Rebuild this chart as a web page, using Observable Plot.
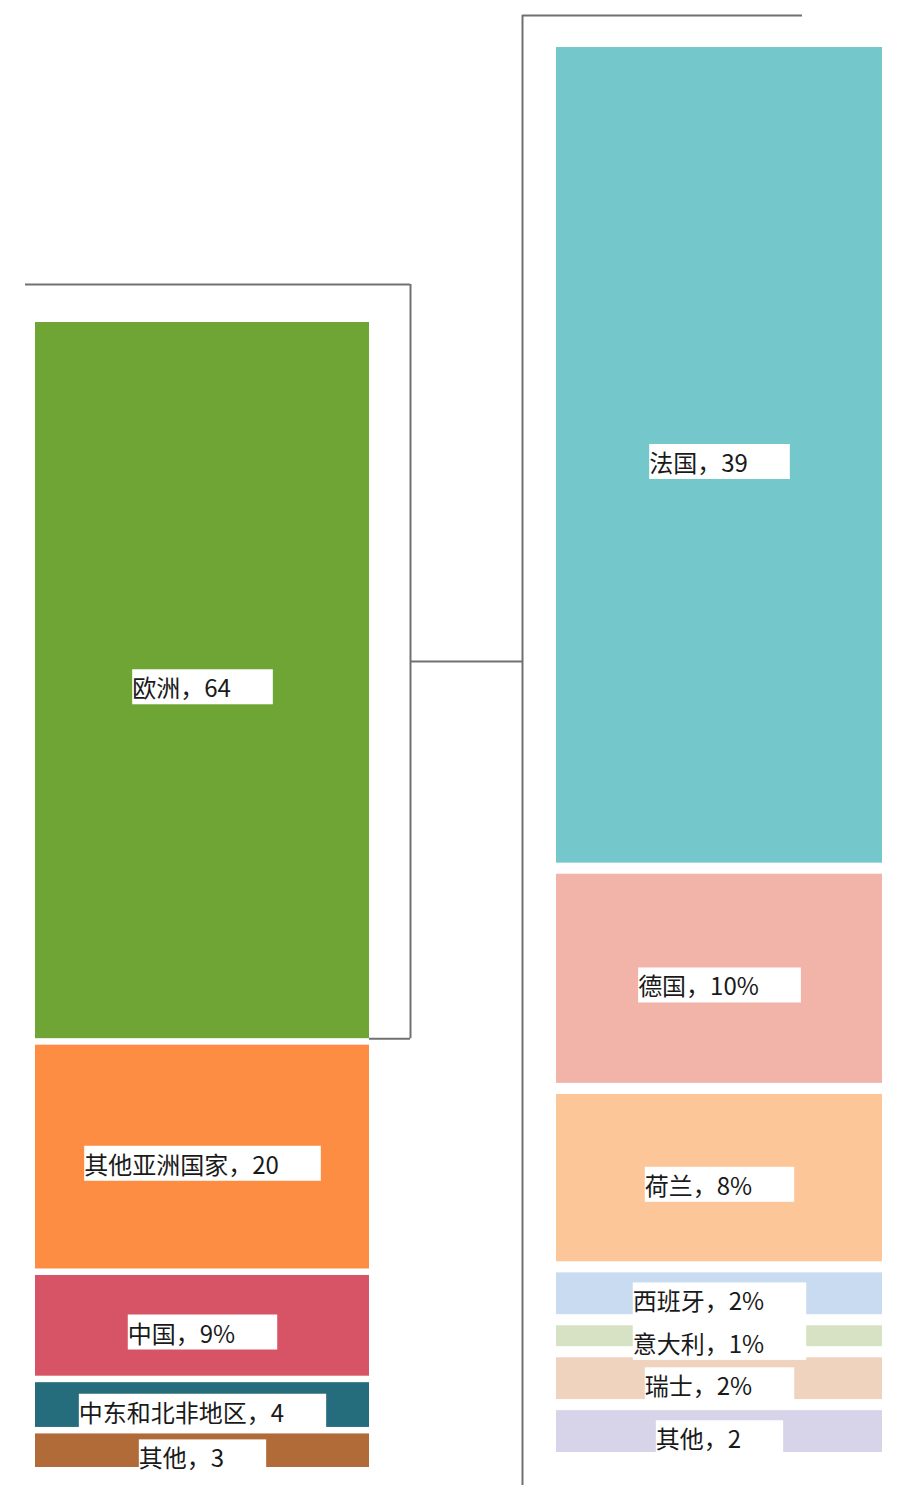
<!DOCTYPE html>
<html>
<head>
<meta charset="utf-8">
<script src="https://cdn.jsdelivr.net/npm/d3@7"></script>
<script src="https://cdn.jsdelivr.net/npm/@observablehq/plot@0.6"></script>
<style>
  html, body { margin: 0; padding: 0; background: #fff; overflow: hidden; }
  #chart { position: relative; width: 907px; height: 1485px; }
  #chart svg { position: absolute; left: 0; top: 0; }
</style>
</head>
<body>
<div id="chart"></div>
<script>
// 主柱：按地区
const regions = ["欧洲", "其他亚洲国家", "中国", "中东和北非地区", "其他"];
const regionValues = [64, 20, 9, 4, 3];
const regionSuffix = ["", "", "%", "", ""];

// 子柱：欧洲按国家拆分
const countries = ["法国", "德国", "荷兰", "西班牙", "意大利", "瑞士", "其他"];
const countryValues = [39, 10, 8, 2, 1, 2, 2];
const countrySuffix = ["", "%", "%", "%", "%", "%", ""];

// 配色
const regionColors = ["#6fa535", "#fd8d43", "#d65465", "#256d7d", "#b06b38"];
const countryColors = ["#74c7ca", "#f2b3a9", "#fdc699", "#c9dbf0", "#d7e2c5", "#f0d3bf", "#d7d3e8"];

const W = 907, H = 1485;
const FONT = "'Noto Sans CJK SC', 'Noto Sans', sans-serif";
const LINE = "#707070";

// Stack the segments top-down, leaving a small gap (in value units) between them.
function stackWithGaps(names, values, suffix, gap) {
  let y = 0;
  return names.map((name, i) => {
    const row = {key: i, name, value: values[i], label: `${name}，${values[i]}${suffix[i]}`, y1: y, y2: y + values[i]};
    y += values[i] + gap;
    return row;
  });
}

const leftGap = 0.58, rightGap = 0.53;
const leftRows = stackWithGaps(regions, regionValues, regionSuffix, leftGap);
const rightRows = stackWithGaps(countries, countryValues, countrySuffix, rightGap);
const leftTotal = leftRows[leftRows.length - 1].y2;
const rightTotal = rightRows[rightRows.length - 1].y2;
const europe = leftRows[0];

const labelStyle = {fontSize: 24, fill: "#1a1a1a", dx: -21, dy: 9};

// 左侧：地区构成，附带指向欧洲拆分的括线
const left = Plot.plot({
  width: W, height: H,
  style: {fontFamily: FONT, background: "transparent"},
  x: {domain: [0, 1], range: [35, 369], axis: null},
  y: {domain: [0, leftTotal], range: [322, 1467], axis: null},
  color: {domain: leftRows.map(d => d.key), range: regionColors},
  marks: [
    Plot.rectY(leftRows, {x1: 0, x2: 1, y1: "y1", y2: "y2", fill: "key"}),
    // bracket around the 欧洲 segment
    Plot.ruleY([europe.y1], {x1: 0, x2: 1, dy: -38, insetLeft: -10, insetRight: -41, stroke: LINE, strokeWidth: 2}),
    Plot.ruleX([1], {y1: europe.y1, y2: europe.y2, dx: 41, insetTop: -38, stroke: LINE, strokeWidth: 2}),
    Plot.ruleY([europe.y2], {x1: 1, x2: 1, insetRight: -41, stroke: LINE, strokeWidth: 2}),
    // connector to the breakdown column
    Plot.ruleY([(europe.y1 + europe.y2) / 2], {x1: 1, x2: 1, dy: -19, insetLeft: 41, insetRight: -153, stroke: LINE, strokeWidth: 2}),
    Plot.text(leftRows, {x: 0.5, y: d => (d.y1 + d.y2) / 2, text: "label", ...labelStyle})
  ]
});

// 右侧：欧洲按国家拆分
const right = Plot.plot({
  width: W, height: H,
  style: {fontFamily: FONT, background: "transparent"},
  x: {domain: [0, 1], range: [556, 882], axis: null},
  y: {domain: [0, rightTotal], range: [47, 1452], axis: null},
  color: {domain: rightRows.map(d => d.key), range: countryColors},
  marks: [
    Plot.rectY(rightRows, {x1: 0, x2: 1, y1: "y1", y2: "y2", fill: "key"}),
    Plot.ruleX([0], {y1: 0, y2: rightTotal, dx: -34, insetTop: -32, insetBottom: -40, stroke: LINE, strokeWidth: 2}),
    Plot.ruleY([0], {x1: 0, x2: 0, dy: -32, insetLeft: -34, insetRight: -246, stroke: LINE, strokeWidth: 2}),
    Plot.text(rightRows, {x: 0.5, y: d => (d.y1 + d.y2) / 2, text: "label", ...labelStyle})
  ]
});

const chart = document.getElementById("chart");
chart.append(left, right);

// White label boxes behind each data label, left-aligned with the text.
for (const svg of [left, right]) {
  svg.querySelectorAll('g[aria-label="text"] text').forEach(t => {
    const b = t.getBBox();
    const r = document.createElementNS("http://www.w3.org/2000/svg", "rect");
    const tf = t.getAttribute("transform");
    if (tf) r.setAttribute("transform", tf);
    r.setAttribute("x", b.x);
    r.setAttribute("y", b.y);
    r.setAttribute("width", b.width + 42);
    r.setAttribute("height", b.height);
    r.setAttribute("fill", "#ffffff");
    t.parentNode.insertBefore(r, t);
  });
}
</script>
</body>
</html>
